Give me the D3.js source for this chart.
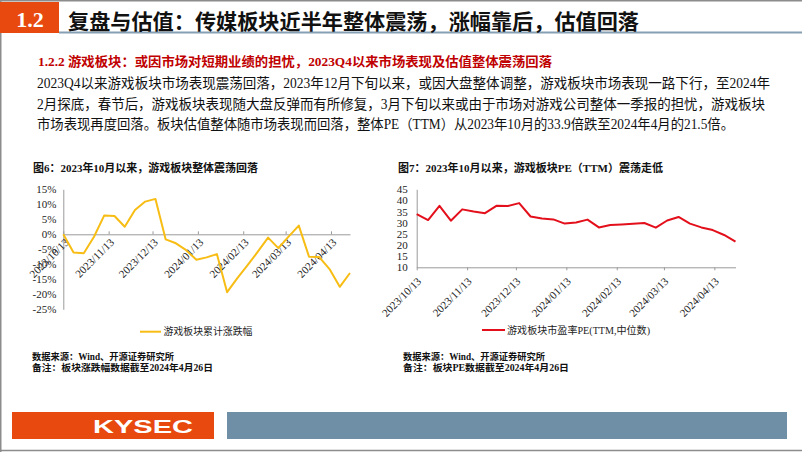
<!DOCTYPE html>
<html><head><meta charset="utf-8">
<script src="https://cdn.jsdelivr.net/npm/d3@7"></script>
<style>body{margin:0;background:#fff}svg{display:block}</style>
</head><body><svg id="c" width="802" height="452"></svg>
<script>
// ---------- DATA ----------
const dates = ["2023-10-13","2023-10-20","2023-10-27","2023-11-03","2023-11-10","2023-11-17","2023-11-24",
  "2023-12-01","2023-12-08","2023-12-15","2023-12-22","2023-12-29","2024-01-05","2024-01-12","2024-01-19",
  "2024-01-26","2024-02-02","2024-02-09","2024-02-16","2024-02-23","2024-03-01","2024-03-08","2024-03-15",
  "2024-03-22","2024-03-29","2024-04-05","2024-04-12","2024-04-19","2024-04-26"];
const cumChange = [0,-6.1,-6.3,-0.8,6.3,6.1,2.5,8.1,10.9,11.8,-1.7,-3.0,-5.3,-8.5,-7.7,-6.6,-19.3,
  -14.6,-10.3,-5.8,-1.1,-4.6,-0.8,2.9,-7.5,-7.6,-11.6,-17.5,-12.9];
const peTTM = [33.9,31.2,37.6,30.9,36.0,35.0,34.3,37.6,37.5,38.8,32.8,31.9,31.5,29.6,30.1,31.4,27.9,
  29.0,29.2,29.5,29.9,27.8,31.0,32.6,29.6,27.9,26.7,24.5,21.5];
const tickDates = ["2023-10-13","2023-11-13","2023-12-13","2024-01-13","2024-02-13","2024-03-13","2024-04-13"];
const yTicks1 = [15,10,5,0,-5,-10,-15,-20,-25];
const yTicks2 = [45,40,35,30,25,20,15,10];

const headerNo = "1.2";
const headerTitle = "复盘与估值：传媒板块近半年整体震荡，涨幅靠后，估值回落";
const subHeading = "1.2.2 游戏板块：或因市场对短期业绩的担忧，2023Q4以来市场表现及估值整体震荡回落";
const bodyLines = [
  "2023Q4以来游戏板块市场表现震荡回落，2023年12月下旬以来，或因大盘整体调整，游戏板块市场表现一路下行，至2024年",
  "2月探底，春节后，游戏板块表现随大盘反弹而有所修复，3月下旬以来或由于市场对游戏公司整体一季报的担忧，游戏板块",
  "市场表现再度回落。板块估值整体随市场表现而回落，整体PE（TTM）从2023年10月的33.9倍跌至2024年4月的21.5倍。"
];
const chartTitles = ["图6：2023年10月以来，游戏板块整体震荡回落","图7：2023年10月以来，游戏板块PE（TTM）震荡走低"];
const legendNames = ["游戏板块累计涨跌幅","游戏板块市盈率PE(TTM,中位数)"];
const notes1 = ["数据来源：Wind、开源证券研究所","备注：板块涨跌幅数据截至2024年4月26日"];
const notes2 = ["数据来源：Wind、开源证券研究所","备注：板块PE数据截至2024年4月26日"];
const brand = "KYSEC";

// ---------- DRAW ----------
const svg = d3.select("#c");
const serif = "'Liberation Serif','Noto Sans CJK SC',serif";
const parse = d3.timeParse("%Y-%m-%d");
const fmt = d3.timeFormat("%Y/%m/%d");
const D = dates.map(parse);
const T = tickDates.map(parse);

// frame
svg.append("rect").attr("x",0).attr("y",0).attr("width",802).attr("height",452).attr("fill","#fff");
svg.append("line").attr("x1",0).attr("x2",802).attr("y1",0.75).attr("y2",0.75).attr("stroke","#8c8c8c").attr("stroke-width",1.5);
svg.append("line").attr("x1",0.75).attr("x2",0.75).attr("y1",0).attr("y2",452).attr("stroke","#8c8c8c").attr("stroke-width",1.5);
svg.append("line").attr("x1",0).attr("x2",802).attr("y1",450.5).attr("y2",450.5).attr("stroke","#8c8c8c").attr("stroke-width",1.5);

// header
svg.append("rect").attr("x",0).attr("y",2).attr("width",59).attr("height",31).attr("fill","#e8490f");
svg.append("text").attr("x",30).attr("y",27).attr("text-anchor","middle").attr("fill","#fff")
  .attr("font-family",serif).attr("font-weight","bold").attr("font-size",22).text(headerNo);
svg.append("line").attr("x1",59).attr("x2",802).attr("y1",32.5).attr("y2",32.5).attr("stroke","#879fb2").attr("stroke-width",2);
svg.append("text").attr("x",68).attr("y",29).attr("fill","#111").attr("font-family",serif)
  .attr("font-weight","bold").attr("font-size",21).attr("textLength",571).attr("lengthAdjust","spacingAndGlyphs").text(headerTitle);

// subheading & body
svg.append("text").attr("x",38).attr("y",66).attr("fill","#c00000").attr("font-family",serif)
  .attr("font-weight","bold").attr("font-size",13).attr("textLength",514).attr("lengthAdjust","spacingAndGlyphs").text(subHeading);
const bodyW = [733, 728, 697];
bodyLines.forEach((t,i)=>{
  svg.append("text").attr("x",37).attr("y",88+i*20.5).attr("fill","#111").attr("font-family",serif)
    .attr("font-size",14).attr("textLength",bodyW[i]).attr("lengthAdjust","spacingAndGlyphs").text(t);
});

// chart titles
svg.append("text").attr("x",33).attr("y",172).attr("font-family",serif).attr("font-weight","bold")
  .attr("font-size",11).attr("fill","#111").attr("textLength",225).attr("lengthAdjust","spacingAndGlyphs").text(chartTitles[0]);
svg.append("text").attr("x",398).attr("y",172).attr("font-family",serif).attr("font-weight","bold")
  .attr("font-size",11).attr("fill","#111").attr("textLength",265).attr("lengthAdjust","spacingAndGlyphs").text(chartTitles[1]);

const axisColor = "#9a9a9a";
function styleAxis(g){
  g.select(".domain").attr("stroke",axisColor);
  g.selectAll(".tick line").attr("stroke",axisColor);
  g.selectAll("text").attr("font-family",serif).attr("font-size",11).attr("fill","#222");
}

// ---- Chart 1 ----
const x1 = d3.scaleTime().domain([D[0], D[D.length-1]]).range([63.3, 350]);
const y1 = d3.scaleLinear().domain([-25,15]).range([309.3,189.3]);
const g1 = svg.append("g");
g1.append("g").attr("transform","translate(63.3,0)")
  .call(d3.axisLeft(y1).tickValues(yTicks1).tickSize(0).tickPadding(7).tickFormat(d=>d+"%"))
  .call(styleAxis);
g1.append("g").attr("transform",`translate(0,${y1(0)})`)
  .call(d3.axisBottom(x1).tickValues(T).tickSize(-3).tickSizeOuter(0).tickFormat(fmt))
  .call(styleAxis)
  .call(g=>g.selectAll(".tick text").attr("text-anchor","end").attr("x",0).attr("y",0).attr("dy","0.35em")
    .attr("transform","translate(3,6) rotate(-45)"));
g1.append("path").datum(cumChange).attr("fill","none").attr("stroke","#f7bd14").attr("stroke-width",2)
  .attr("stroke-linejoin","round")
  .attr("d",d3.line().x((d,i)=>x1(D[i])).y(d=>y1(d)));
// legend 1
svg.append("line").attr("x1",140).attr("x2",161).attr("y1",331.7).attr("y2",331.7).attr("stroke","#f7bd14").attr("stroke-width",2);
svg.append("text").attr("x",163.5).attr("y",335.3).attr("font-family",serif).attr("font-size",10).attr("fill","#222")
  .attr("textLength",89).attr("lengthAdjust","spacingAndGlyphs").text(legendNames[0]);

// ---- Chart 2 ----
const x2 = d3.scaleTime().domain([D[0], D[D.length-1]]).range([416.7, 735.5]);
const y2 = d3.scaleLinear().domain([10,45]).range([267.3,189.3]);
const g2 = svg.append("g");
g2.append("g").attr("transform","translate(416.7,0)")
  .call(d3.axisLeft(y2).tickValues(yTicks2).tickSize(0).tickPadding(9))
  .call(styleAxis);
g2.append("g").attr("transform",`translate(0,${y2(10)})`)
  .call(d3.axisBottom(x2).tickValues(T).tickSize(3).tickSizeOuter(0).tickFormat(fmt))
  .call(styleAxis)
  .call(g=>g.selectAll(".tick text").attr("text-anchor","end").attr("x",0).attr("y",0).attr("dy","0.35em")
    .attr("transform","translate(2,12) rotate(-45)"));
g2.append("path").datum(peTTM).attr("fill","none").attr("stroke","#e3101c").attr("stroke-width",2)
  .attr("stroke-linejoin","round")
  .attr("d",d3.line().x((d,i)=>x2(D[i])).y(d=>y2(d)));
svg.append("line").attr("x1",482).attr("x2",505).attr("y1",330).attr("y2",330).attr("stroke","#e3101c").attr("stroke-width",2);
svg.append("text").attr("x",507).attr("y",333.6).attr("font-family",serif).attr("font-size",10).attr("fill","#222")
  .attr("textLength",143).attr("lengthAdjust","spacingAndGlyphs").text(legendNames[1]);

// notes
function notes(x, arr, w){
  arr.forEach((t,i)=>{
    svg.append("text").attr("x",x).attr("y",360+i*10.8).attr("font-family",serif).attr("font-weight","bold")
      .attr("font-size",9.5).attr("fill","#111").attr("textLength",w[i]).attr("lengthAdjust","spacingAndGlyphs").text(t);
  });
}
notes(32, notes1, [142,181]);
notes(403, notes2, [142,166]);

// footer
svg.append("rect").attr("x",12).attr("y",412).attr("width",202).attr("height",27).attr("fill","#e8490f");
svg.append("rect").attr("x",227).attr("y",412).attr("width",560).attr("height",27).attr("fill","#6e8fa5");
svg.append("text").attr("x",93).attr("y",432.5).attr("fill","#fff").attr("font-family","'Liberation Sans',Arial,sans-serif")
  .attr("font-weight","bold").attr("font-size",19).attr("textLength",100).attr("lengthAdjust","spacingAndGlyphs").text(brand);
</script></body></html>
